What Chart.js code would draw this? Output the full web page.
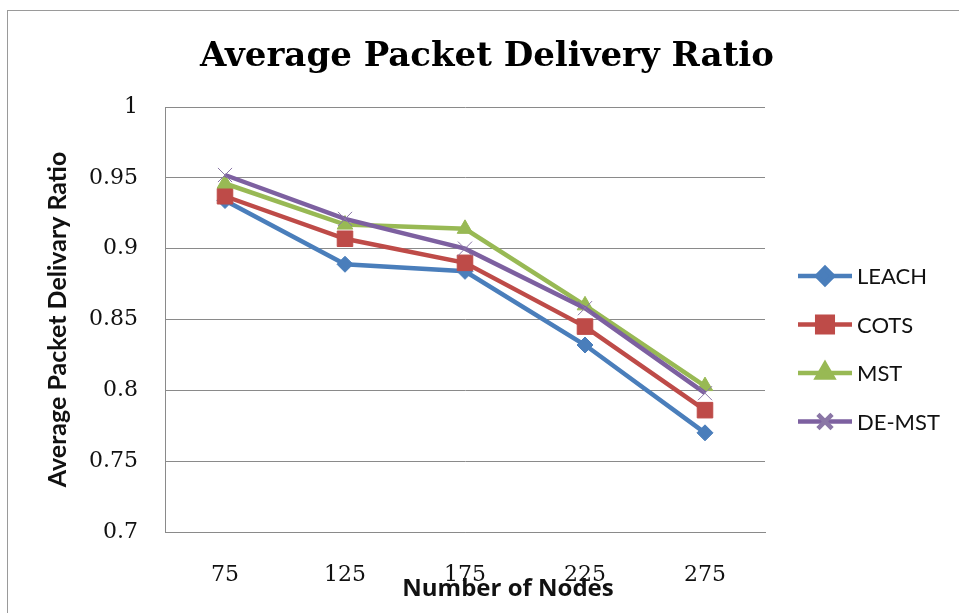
<!DOCTYPE html>
<html>
<head>
<meta charset="utf-8">
<script src="https://cdn.jsdelivr.net/npm/chart.js@4"></script>
<style>
  html, body { margin: 0; padding: 0; background: #fff; }
  #wrap { width: 959px; height: 613px; position: relative; }
</style>
</head>
<body>
<div id="wrap"><canvas id="pdrChart" width="959" height="613"></canvas></div>
<script>
const nodes = ['75', '125', '175', '225', '275'];
const leach = [0.934, 0.889, 0.884, 0.832, 0.770];
const cots = [0.937, 0.907, 0.890, 0.845, 0.786];
const mst = [0.946, 0.917, 0.914, 0.860, 0.803];
const deMst = [0.952, 0.921, 0.900, 0.858, 0.798];
const yTicks = [0.7, 0.75, 0.8, 0.85, 0.9, 0.95, 1];

const chartTitle = 'Average Packet Delivery Ratio';
const xTitle = 'Number of Nodes';
const yTitle = 'Average Packet Delivary Ratio';

const gridGray = '#8a8a8a';

// frame round the whole chart, like the exported picture
const framePlugin = {
    id: 'frame',
    beforeDraw(chart) {
        const c = chart.ctx;
        c.save();
        c.strokeStyle = '#9a9a9a';
        c.lineWidth = 1;
        c.strokeRect(7.5, 10.5, 1000, 1000);
        c.restore();
    }
};

// title, x axis title (sits over the tick labels) and the legend on the right
const textPlugin = {
    id: 'texts',
    afterDraw(chart) {
        const c = chart.ctx;
        c.save();
        c.fillStyle = '#000';
        c.textAlign = 'center';
        c.textBaseline = 'middle';
        c.font = 'bold 34px "DejaVu Serif"';
        c.fillText(chartTitle, 487, 57);
        c.fillStyle = '#111';
        c.font = 'bold 24px "Open Sans"';
        c.fillText(xTitle, 508, 589);
        c.restore();

        const x0 = 798, x1 = 852, top = 276, gap = 48.5;
        chart.data.datasets.forEach((ds, i) => {
            const y = top + i * gap;
            c.save();
            c.strokeStyle = ds.borderColor;
            c.lineWidth = ds.borderWidth;
            c.beginPath();
            c.moveTo(x0, y);
            c.lineTo(x1, y);
            c.stroke();
            c.fillStyle = ds.pointBackgroundColor;
            c.strokeStyle = ds.pointBorderColor;
            Chart.helpers.drawPoint(c, { pointStyle: ds.pointStyle, radius: ds.pointRadius, rotation: 0, borderWidth: ds.pointBorderWidth }, (x0 + x1) / 2, y);
            c.fillStyle = '#111';
            c.font = '22px Lato';
            c.textAlign = 'left';
            c.textBaseline = 'middle';
            c.fillText(ds.label, 857, y + 1);
            c.restore();
        });
    }
};

function series(label, data, color, style, radius, order, markBorder) {
    return {
        label: label, data: data, order: order,
        borderColor: color, borderWidth: 4.5, tension: 0,
        pointStyle: style, pointRadius: radius, pointHoverRadius: radius,
        pointBackgroundColor: color, pointBorderColor: markBorder || color, pointBorderWidth: 1
    };
}

new Chart(document.getElementById('pdrChart'), {
    type: 'line',
    data: {
        labels: nodes,
        datasets: [
            series('LEACH', leach, '#4a7ebb', 'rectRot', 8, 4),
            series('COTS', cots, '#be4b48', 'rect', 11, 3),
            series('MST', mst, '#98b954', 'triangle', 9, 2),
            series('DE-MST', deMst, '#7d60a0', 'crossRot', 10, 1, '#8a76a6')
        ]
    },
    options: {
        responsive: false,
        animation: false,
        layout: { padding: { left: 0, top: 107, right: 194, bottom: 0 } },
        plugins: {
            legend: { display: false },
            tooltip: { enabled: false },
            title: { display: false }
        },
        scales: {
            x: {
                offset: true,
                grid: { display: false, drawTicks: false },
                border: { display: true, color: gridGray, width: 1 },
                ticks: { color: '#111', padding: 30, font: { family: 'DejaVu Serif', size: 22 } },
                afterFit(scale) { scale.height = 81; }
            },
            y: {
                min: 0.7,
                max: 1,
                afterBuildTicks(scale) { scale.ticks = yTicks.map(v => ({ value: v })); },
                grid: { color: gridGray, lineWidth: 1, drawTicks: false },
                border: { display: true, color: gridGray, width: 1 },
                ticks: { color: '#111', padding: 27, font: { family: 'DejaVu Serif', size: 22 }, callback: v => String(+v.toFixed(2)) },
                title: { display: true, text: yTitle, color: '#111', font: { family: 'Lato', size: 25, weight: 'bold' }, padding: { top: 43, bottom: 0 } },
                afterFit(scale) { scale.width = 165; }
            }
        }
    },
    plugins: [framePlugin, textPlugin]
});
</script>
</body>
</html>
